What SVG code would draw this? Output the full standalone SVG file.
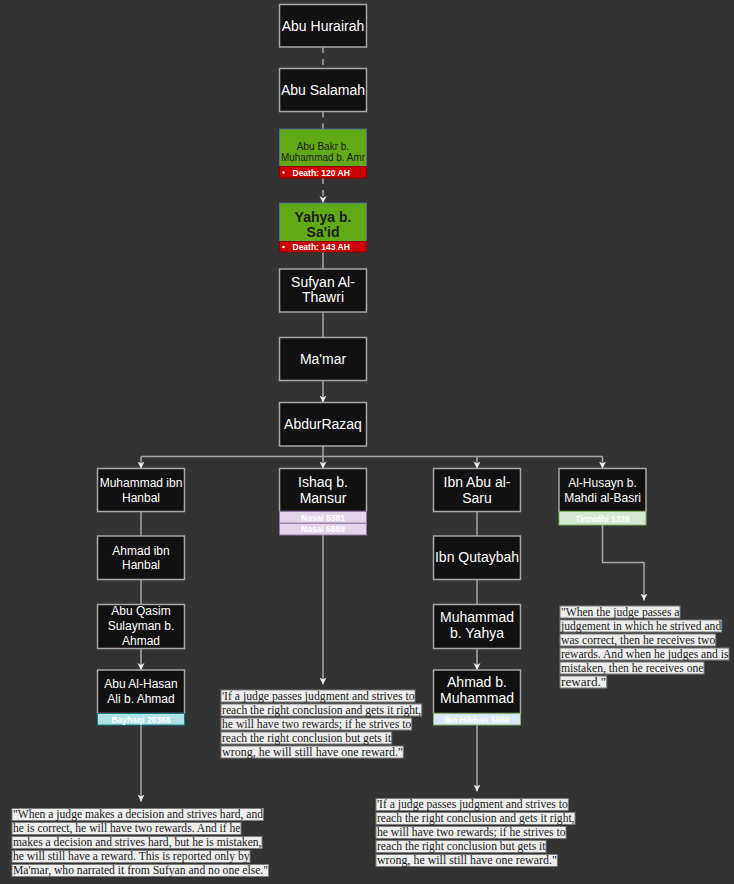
<svg xmlns="http://www.w3.org/2000/svg" width="734" height="884" viewBox="0 0 734 884">
<defs>
<style>
.n rect.b{fill:#111111;stroke:#a8a8a8;stroke-width:1.5}
.n rect.g{fill:#60a917;stroke:#4d6f9a;stroke-width:1}
.n rect.r{fill:#cc0000;stroke:#8a0000;stroke-width:1}
.lbl{font-family:"Liberation Sans",Arial,sans-serif;fill:#ffffff;text-anchor:middle}
.s14{font-size:14px}
.s12{font-size:12px}
.dk{fill:#1c1c1c}
.bold{font-weight:bold}
.bt{font-family:"Liberation Sans",Arial,sans-serif;font-weight:bold;font-size:8.5px;fill:#ffffff;text-anchor:middle}
.dt{font-family:"Liberation Sans",Arial,sans-serif;font-weight:bold;font-size:8.5px;fill:#ffffff}
.q rect{fill:#eeeeee;stroke:#7c7c7c;stroke-width:1}
.q text{font-family:"Liberation Serif","Times New Roman",serif;font-size:12px;fill:#222222}
.e{fill:none;stroke:#a8a8a8;stroke-width:1.5}
.d{stroke-dasharray:6 6}
.a{marker-end:url(#arr)}
</style>
<marker id="arr" markerUnits="userSpaceOnUse" markerWidth="9" markerHeight="9" refX="7" refY="4" orient="auto">
<path d="M0,0.5 L7,4 L0,7.5 L2,4 Z" fill="#eeeeee"/>
</marker>
</defs>
<rect x="0" y="0" width="734" height="884" fill="#333333"/>

<g id="connectors">
<path class="e d" d="M323,47 V68.5"/>
<path class="e d" d="M323,111.5 V129"/>
<path class="e d a" d="M323,178 V203"/>
<path class="e" d="M323,252 V269"/>
<path class="e" d="M323,312 V337.5"/>
<path class="e a" d="M323,380.5 V402.5"/>
<path class="e" d="M323,446 V456.5 M141,456.5 H602.5"/>
<path class="e a" d="M141,456.5 V468.5"/>
<path class="e a" d="M323,456.5 V468.5"/>
<path class="e a" d="M477,456.5 V468.5"/>
<path class="e a" d="M602.5,456.5 V468.5"/>
<path class="e" d="M141,511.5 V536"/>
<path class="e" d="M141,579.5 V604.5"/>
<path class="e a" d="M141,648.5 V670"/>
<path class="e" d="M477,511.5 V536"/>
<path class="e" d="M477,579.5 V604.5"/>
<path class="e a" d="M477,648.5 V670"/>
<path class="e a" d="M141,725 V801.5"/>
<path class="e a" d="M323,535 V684.5"/>
<path class="e a" d="M477,725 V791.5"/>
<path class="e a" d="M602.5,525 V562.5 H644 V600.5"/>
</g>

<g id="abu-hurairah" class="n">
<rect class="b" x="279.5" y="4.5" width="87" height="42.5"/>
<text class="lbl s14" x="323" y="30.5">Abu Hurairah</text>
</g>
<g id="abu-salamah" class="n">
<rect class="b" x="279.5" y="68.5" width="87" height="43"/>
<text class="lbl s14" x="323" y="95">Abu Salamah</text>
</g>
<g id="abu-bakr" class="n">
<rect class="g" x="279.5" y="129" width="87" height="37.5"/>
<text class="lbl dk" font-size="10" x="323" y="150.3">Abu Bakr b.</text>
<text class="lbl dk" font-size="10" x="323" y="161" textLength="84" lengthAdjust="spacingAndGlyphs">Muhammad b. Amr</text>
<rect class="r" x="279.5" y="166.5" width="87" height="11.5"/>
<circle cx="283.5" cy="172.5" r="1.3" fill="#ffffff"/>
<text class="dt" x="292.5" y="175.5">Death: 120 AH</text>
</g>
<g id="yahya" class="n">
<rect class="g" x="279.5" y="203" width="87" height="38.5"/>
<text class="lbl s14 dk bold" x="323" y="221.5">Yahya b.</text>
<text class="lbl s14 dk bold" x="323" y="236.5">Sa'id</text>
<rect class="r" x="279.5" y="241.5" width="87" height="10.5"/>
<circle cx="283.5" cy="247" r="1.3" fill="#ffffff"/>
<text class="dt" x="292.5" y="250">Death: 143 AH</text>
</g>
<g id="sufyan" class="n">
<rect class="b" x="279.5" y="269" width="87" height="43"/>
<text class="lbl s14" x="323" y="286.5">Sufyan Al-</text>
<text class="lbl s14" x="323" y="301.5">Thawri</text>
</g>
<g id="mamar" class="n">
<rect class="b" x="279.5" y="337.5" width="87" height="43"/>
<text class="lbl s14" x="323" y="364">Ma'mar</text>
</g>
<g id="abdurrazaq" class="n">
<rect class="b" x="279.5" y="402.5" width="87" height="43.5"/>
<text class="lbl s14" x="323" y="429">AbdurRazaq</text>
</g>

<g id="muhammad-ibn-hanbal" class="n">
<rect class="b" x="97.5" y="468.5" width="87" height="43"/>
<text class="lbl s12" x="141" y="486.5">Muhammad ibn</text>
<text class="lbl s12" x="141" y="502">Hanbal</text>
</g>
<g id="ahmad-ibn-hanbal" class="n">
<rect class="b" x="97.5" y="536" width="87" height="43.5"/>
<text class="lbl s12" x="141" y="554.5">Ahmad ibn</text>
<text class="lbl s12" x="141" y="569">Hanbal</text>
</g>
<g id="abu-qasim" class="n">
<rect class="b" x="97.5" y="604.5" width="87" height="44"/>
<text class="lbl s12" x="141" y="615">Abu Qasim</text>
<text class="lbl s12" x="141" y="630">Sulayman b.</text>
<text class="lbl s12" x="141" y="644.5">Ahmad</text>
</g>
<g id="abu-al-hasan" class="n">
<rect class="b" x="97.5" y="670" width="87" height="43.5"/>
<text class="lbl s12" x="141" y="687.5">Abu Al-Hasan</text>
<text class="lbl s12" x="141" y="702.5">Ali b. Ahmad</text>
<rect x="97.5" y="713.5" width="87" height="11.5" fill="#b0e3e6" stroke="#0e8088" stroke-width="1"/>
<text class="bt" x="141" y="722.5">Bayhaqi 20368</text>
</g>

<g id="ishaq" class="n">
<rect class="b" x="279.5" y="468.5" width="87" height="43"/>
<text class="lbl s14" x="323" y="487">Ishaq b.</text>
<text class="lbl s14" x="323" y="502.5">Mansur</text>
<rect x="279.5" y="511.5" width="87" height="11.75" fill="#e1d5e7" stroke="#9673a6" stroke-width="1"/>
<text class="bt" x="323" y="520.7">Nasai 5381</text>
<rect x="279.5" y="523.25" width="87" height="11.75" fill="#e1d5e7" stroke="#9673a6" stroke-width="1"/>
<text class="bt" x="323" y="532.4">Nasai 5889</text>
</g>

<g id="ibn-abu-al-saru" class="n">
<rect class="b" x="433.5" y="468.5" width="87" height="43"/>
<text class="lbl s14" x="477" y="487">Ibn Abu al-</text>
<text class="lbl s14" x="477" y="502.5">Saru</text>
</g>
<g id="ibn-qutaybah" class="n">
<rect class="b" x="433.5" y="536" width="87" height="43.5"/>
<text class="lbl s14" x="477" y="562">Ibn Qutaybah</text>
</g>
<g id="muhammad-b-yahya" class="n">
<rect class="b" x="433.5" y="604.5" width="87" height="44"/>
<text class="lbl s14" x="477" y="622">Muhammad</text>
<text class="lbl s14" x="477" y="638">b. Yahya</text>
</g>
<g id="ahmad-b-muhammad" class="n">
<rect class="b" x="433.5" y="670" width="87" height="43.5"/>
<text class="lbl s14" x="477" y="687">Ahmad b.</text>
<text class="lbl s14" x="477" y="703">Muhammad</text>
<rect x="433.5" y="713.5" width="87" height="11.5" fill="#dae8fc" stroke="#82b366" stroke-width="1"/>
<text class="bt" x="477" y="722.5">Ibn Hibban 5060</text>
</g>

<g id="al-husayn" class="n">
<rect class="b" x="559" y="468.5" width="87" height="43"/>
<text class="lbl s12" x="602.5" y="486.5">Al-Husayn b.</text>
<text class="lbl s12" x="602.5" y="501.5">Mahdi al-Basri</text>
<rect x="559" y="511.5" width="87" height="13.5" fill="#d5e8d4" stroke="#82b366" stroke-width="1"/>
<text class="bt" x="602.5" y="521.5">Tirmidhi 1326</text>
</g>

<g id="quote-bayhaqi" class="q">
<rect x="12" y="808.5" width="251.5" height="12"/>
<rect x="12" y="822.5" width="229" height="12"/>
<rect x="12" y="836.5" width="250" height="12"/>
<rect x="12" y="850.5" width="238" height="12"/>
<rect x="12" y="864.5" width="256.5" height="12"/>
<text x="13" y="818.2" textLength="250" lengthAdjust="spacingAndGlyphs">"When a judge makes a decision and strives hard, and</text>
<text x="13" y="832.2" textLength="227.5" lengthAdjust="spacingAndGlyphs">he is correct, he will have two rewards. And if he</text>
<text x="13" y="846.2" textLength="248.5" lengthAdjust="spacingAndGlyphs">makes a decision and strives hard, but he is mistaken,</text>
<text x="13" y="860.2" textLength="236.5" lengthAdjust="spacingAndGlyphs">he will still have a reward. This is reported only by</text>
<text x="13" y="874.2" textLength="255" lengthAdjust="spacingAndGlyphs">Ma'mar, who narrated it from Sufyan and no one else."</text>
</g>

<g id="quote-nasai" class="q">
<rect x="221" y="690" width="194" height="12"/>
<rect x="221" y="704" width="200.7" height="12"/>
<rect x="221" y="718" width="190.7" height="12"/>
<rect x="221" y="732" width="170.7" height="12"/>
<rect x="221" y="746" width="182.3" height="12"/>
<text x="222" y="699.7" textLength="192.5" lengthAdjust="spacingAndGlyphs">'If a judge passes judgment and strives to</text>
<text x="222" y="713.7" textLength="199.2" lengthAdjust="spacingAndGlyphs">reach the right conclusion and gets it right,</text>
<text x="222" y="727.7" textLength="189.2" lengthAdjust="spacingAndGlyphs">he will have two rewards; if he strives to</text>
<text x="222" y="741.7" textLength="169.2" lengthAdjust="spacingAndGlyphs">reach the right conclusion but gets it</text>
<text x="222" y="755.7" textLength="180.8" lengthAdjust="spacingAndGlyphs">wrong, he will still have one reward."</text>
</g>

<g id="quote-ibn-hibban" class="q">
<rect x="376" y="798.5" width="192.3" height="12"/>
<rect x="376" y="812.5" width="199" height="12"/>
<rect x="376" y="826.5" width="190" height="12"/>
<rect x="376" y="840.5" width="170" height="12"/>
<rect x="376" y="854.5" width="181.3" height="12"/>
<text x="377" y="808.2" textLength="190.8" lengthAdjust="spacingAndGlyphs">'If a judge passes judgment and strives to</text>
<text x="377" y="822.2" textLength="197.5" lengthAdjust="spacingAndGlyphs">reach the right conclusion and gets it right,</text>
<text x="377" y="836.2" textLength="188.5" lengthAdjust="spacingAndGlyphs">he will have two rewards; if he strives to</text>
<text x="377" y="850.2" textLength="168.5" lengthAdjust="spacingAndGlyphs">reach the right conclusion but gets it</text>
<text x="377" y="864.2" textLength="179.8" lengthAdjust="spacingAndGlyphs">wrong, he will still have one reward."</text>
</g>

<g id="quote-tirmidhi" class="q">
<rect x="560" y="606" width="120" height="12"/>
<rect x="560" y="620" width="161.7" height="12"/>
<rect x="560" y="634" width="155.7" height="12"/>
<rect x="560" y="648" width="169" height="12"/>
<rect x="560" y="662" width="144" height="12"/>
<rect x="560" y="676" width="46.7" height="12"/>
<text x="561" y="615.7" textLength="118.5" lengthAdjust="spacingAndGlyphs">"When the judge passes a</text>
<text x="561" y="629.7" textLength="160.2" lengthAdjust="spacingAndGlyphs">judgement in which he strived and</text>
<text x="561" y="643.7" textLength="154.2" lengthAdjust="spacingAndGlyphs">was correct, then he receives two</text>
<text x="561" y="657.7" textLength="167.5" lengthAdjust="spacingAndGlyphs">rewards. And when he judges and is</text>
<text x="561" y="671.7" textLength="142.5" lengthAdjust="spacingAndGlyphs">mistaken, then he receives one</text>
<text x="561" y="685.7" textLength="45.2" lengthAdjust="spacingAndGlyphs">reward."</text>
</g>
</svg>
